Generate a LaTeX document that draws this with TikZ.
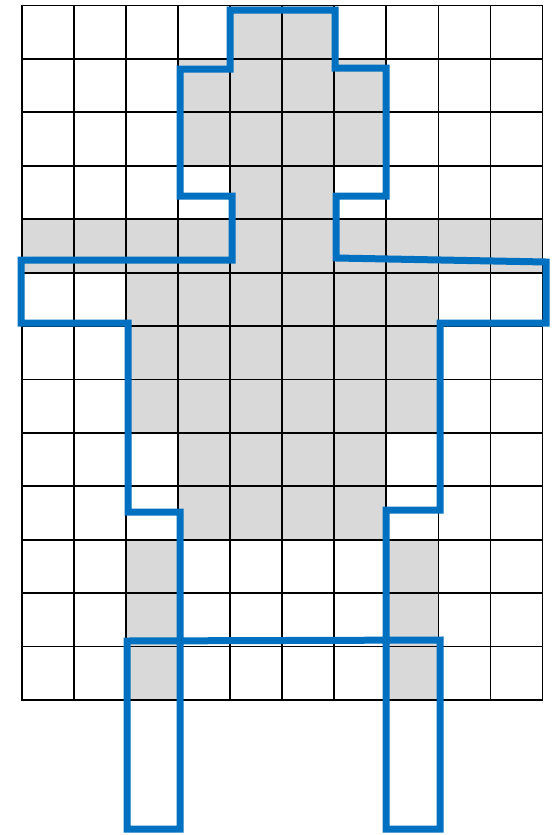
\documentclass[tikz,border=0pt]{standalone}
\definecolor{bodyblue}{HTML}{0070C0}
\definecolor{cellgray}{HTML}{D9D9D9}
\begin{document}
\begin{tikzpicture}[x=1pt,y=-1pt,
  gridline/.style={line width=1.8pt,black,line cap=rect},
  outline/.style={draw=bodyblue,line width=7pt,line join=miter},
  cellfill/.style={fill=cellgray}]
\useasboundingbox (0,0) rectangle (559,835);
\def\cw{52.05}\def\ch{53.42}\def\gx{22}\def\gy{5.5}
% shaded cells
\foreach \r/\a/\b in {0/4/5,1/3/6,2/3/6,3/4/5,4/0/9,5/2/7,6/2/7,7/2/7,8/3/6,9/3/6}{
  \foreach \c in {\a,...,\b}{
    \path[cellfill] ({\gx+\c*\cw},{\gy+\r*\ch}) rectangle ++(\cw,\ch);
  }
}
\foreach \r in {10,11,12}{
  \foreach \c in {2,7}{
    \path[cellfill] ({\gx+\c*\cw},{\gy+\r*\ch}) rectangle ++(\cw,\ch);
  }
}
% grid
\foreach \i in {0,...,10}{
  \draw[gridline] ({\gx+\i*\cw},\gy) -- ({\gx+\i*\cw},{\gy+13*\ch});
}
\foreach \j in {0,...,13}{
  \draw[gridline] (\gx,{\gy+\j*\ch}) -- ({\gx+10*\cw},{\gy+\j*\ch});
}
% blue outline
\draw[outline] (230,10) -- (335,10) -- (335,68) -- (386,68) -- (386,196)
  -- (336,196) -- (336,258) -- (546,262) -- (546,323) -- (440,323)
  -- (440,510) -- (386,510) -- (386,829) -- (440,829) -- (440,640)
  -- (127,641) -- (127,829) -- (180,829) -- (180,512) -- (128,512)
  -- (128,323) -- (21,323) -- (21,260) -- (232,260) -- (232,196)
  -- (180,196) -- (180,69) -- (230,69) -- cycle;
\end{tikzpicture}
\end{document}
